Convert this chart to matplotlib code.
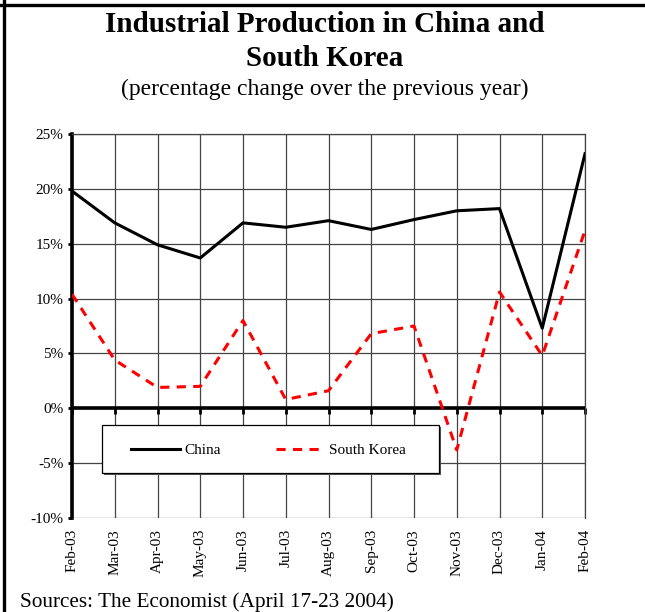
import matplotlib
matplotlib.use("Agg")
import matplotlib.pyplot as plt
from matplotlib.lines import Line2D
from matplotlib.patches import Rectangle

plt.rcParams['font.family'] = ['Liberation Serif', 'DejaVu Serif']

months = ['Feb-03', 'Mar-03', 'Apr-03', 'May-03', 'Jun-03', 'Jul-03', 'Aug-03',
          'Sep-03', 'Oct-03', 'Nov-03', 'Dec-03', 'Jan-04', 'Feb-04']
china = [19.8, 16.9, 14.9, 13.7, 16.9, 16.5, 17.1, 16.3, 17.2, 18.0, 18.2, 7.3, 23.2]
korea = [10.4, 4.4, 1.9, 2.0, 8.0, 0.8, 1.6, 6.8, 7.5, -3.8, 10.6, 4.8, 16.2]
yticks = [-10, -5, 0, 5, 10, 15, 20, 25]

fig = plt.figure(figsize=(6.45, 6.12), dpi=100)
ax = fig.add_axes([72 / 645, 94 / 612, 513 / 645, 384 / 612])

x = list(range(len(months)))
ax.plot(x, china, color='black', lw=2.2, label='China', zorder=4)
ax.plot(x, korea, color='#ff0000', lw=2.2, linestyle=(0, (3.0, 2.4)),
        label='South Korea', zorder=4)

ax.set_xlim(0, len(months) - 1)
ax.set_ylim(-10, 25)
ax.set_yticks(yticks)
ax.set_yticklabels([f'{v}%' for v in yticks], fontsize=11)
ax.set_xticks(x)
ax.grid(True, color='#444444', lw=0.9)
ax.axhline(0, color='black', lw=2.6, zorder=3)

# bottom spine sits on the zero line with small ticks; labels go to the bottom
ax.spines['bottom'].set_position(('data', 0))
ax.spines['bottom'].set_visible(False)
ax.tick_params(axis='x', direction='out', length=4, width=2, color='black',
               labelbottom=False)
ax.tick_params(axis='y', direction='out', length=3, width=2, color='black', pad=3)
ax.spines['left'].set_linewidth(2.6)
for s in ['top', 'right']:
    ax.spines[s].set_color('#444444')
    ax.spines[s].set_linewidth(0.9)

sec = ax.secondary_xaxis('bottom')
sec.set_xticks(x)
sec.set_xticklabels(months, rotation=90, fontsize=11)
sec.tick_params(length=0, pad=8)
sec.spines['bottom'].set_visible(False)

# legend box with a small shadow, items placed inside it
ax.add_patch(Rectangle((32 / 513, 43 / 384), 337 / 513, 48 / 384,
                       transform=ax.transAxes, facecolor='#555555',
                       edgecolor='none', zorder=5))
ax.add_patch(Rectangle((30 / 513, 45 / 384), 337 / 513, 48 / 384,
                       transform=ax.transAxes, facecolor='white',
                       edgecolor='black', lw=0.9, zorder=5))
leg = ax.legend(loc='center left', bbox_to_anchor=(59 / 513, 68 / 384), ncol=2,
                fontsize=11, frameon=False, borderaxespad=0, borderpad=0,
                handlelength=3.2, handletextpad=0.3, columnspacing=3.6)
leg.set_zorder(6)

fig.text(0.503, 1 - 24 / 612, 'Industrial Production in China and', ha='center',
         va='center', fontsize=21, fontweight='bold')
fig.text(0.503, 1 - 58 / 612, 'South Korea', ha='center', va='center',
         fontsize=21, fontweight='bold')
fig.text(0.503, 1 - 89 / 612, '(percentage change over the previous year)',
         ha='center', va='center', fontsize=17)
fig.text(20 / 645, 1 - 602 / 612, 'Sources: The Economist (April 17-23 2004)',
         ha='left', va='center', fontsize=15.3)

# page frame lines
fig.add_artist(Line2D([4 / 645, 4 / 645], [0, 1], color='black', lw=2.4))
fig.add_artist(Line2D([0, 1], [1 - 5 / 612, 1 - 5 / 612], color='black', lw=2.4))

fig.savefig('out.png', dpi=100)
